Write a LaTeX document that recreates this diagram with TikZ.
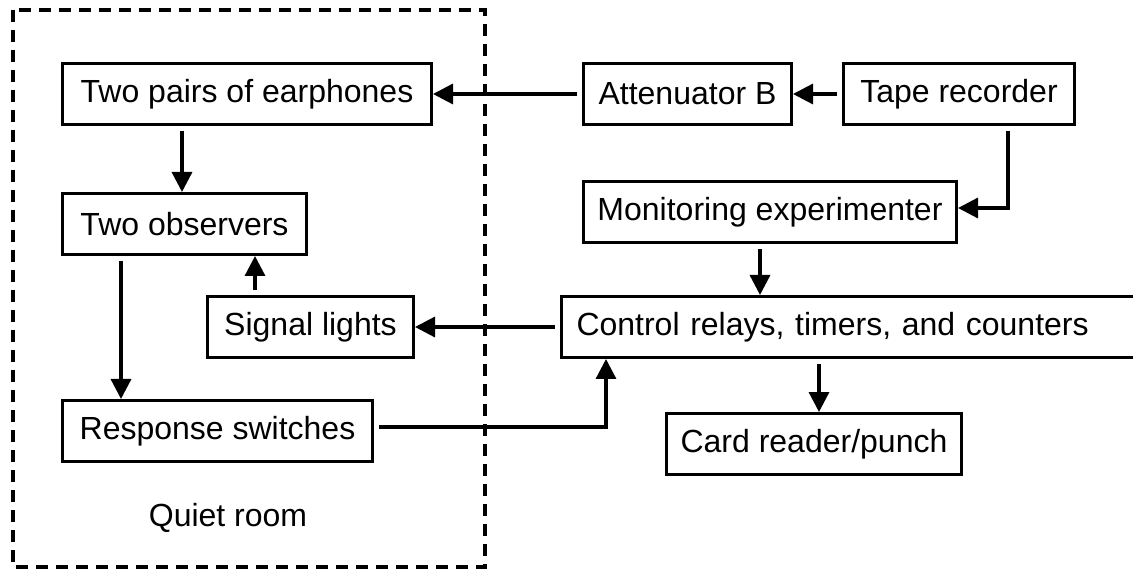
\documentclass[tikz,border=0pt]{standalone}
\usepackage{fontspec}
\setmainfont{Liberation Sans}
\usetikzlibrary{arrows.meta,calc}
\begin{document}
\begin{tikzpicture}[x=1pt,y=-1pt,
  box/.style={draw,line width=3pt,minimum height=61pt,inner sep=0pt,anchor=north west,
    font=\fontsize{32}{38}\selectfont},
  arr/.style={line width=3.3pt,-{Triangle[length=20pt,width=20pt]},shorten <=5pt},
  room/.style={line width=3.3pt,dash pattern=on 12pt off 8pt}]
\useasboundingbox (0,0) rectangle (1133,569);
\clip (0,0) rectangle (1133,569);
\draw[room] (13,10) rectangle (485,567);
\node[box,minimum width=369pt] (ear) at (61,62) {Two pairs of earphones};
\node[box,minimum width=244pt] (obs) at (61,192) {Two observers};
\node[box,minimum width=206pt] (sig) at (206,295) {Signal lights};
\node[box,minimum width=310pt] (resp) at (61,399) {Response switches};
\node[font=\fontsize{32}{38}\selectfont] (qr) at (228,518) {Quiet room};
\node[box,minimum width=208pt] (att) at (582,62) {Attenuator B};
\node[box,minimum width=231pt] (tape) at (842,62) {Tape recorder};
\node[box,minimum width=373pt] (mon) at (582,180) {Monitoring experimenter};
\node[box,minimum width=600pt,text width=570pt,inner xsep=15pt,align=left] (ctrl) at (560,295) {Control relays, timers, and counters};
\node[box,minimum width=295pt] (card) at (665,412) {Card reader/punch};
\draw[arr] (att.west) -- (ear.east);
\draw[arr] (tape.west) -- (att.east);
\draw[arr] ($(ear.south west)+(121,0)$) coordinate (a1) -- (a1 |- obs.north);
\draw[arr] ($(tape.south west)+(166,0)$) |- ($(mon.east)+(0,-4)$);
\draw[arr] ($(mon.south west)+(178,0)$) coordinate (a2) -- (a2 |- ctrl.north);
\draw[arr] (ctrl.west) -- (sig.east);
\draw[arr] ($(sig.north west)+(49,0)$) coordinate (a3) -- (a3 |- obs.south);
\draw[arr] ($(obs.south west)+(60,0)$) coordinate (a4) -- (a4 |- resp.north);
\draw[arr] ($(resp.east)+(0,-4)$) -| ($(ctrl.south west)+(46,0)$);
\draw[arr] ($(ctrl.south west)+(259,0)$) coordinate (a5) -- (a5 |- card.north);
\end{tikzpicture}
\end{document}
